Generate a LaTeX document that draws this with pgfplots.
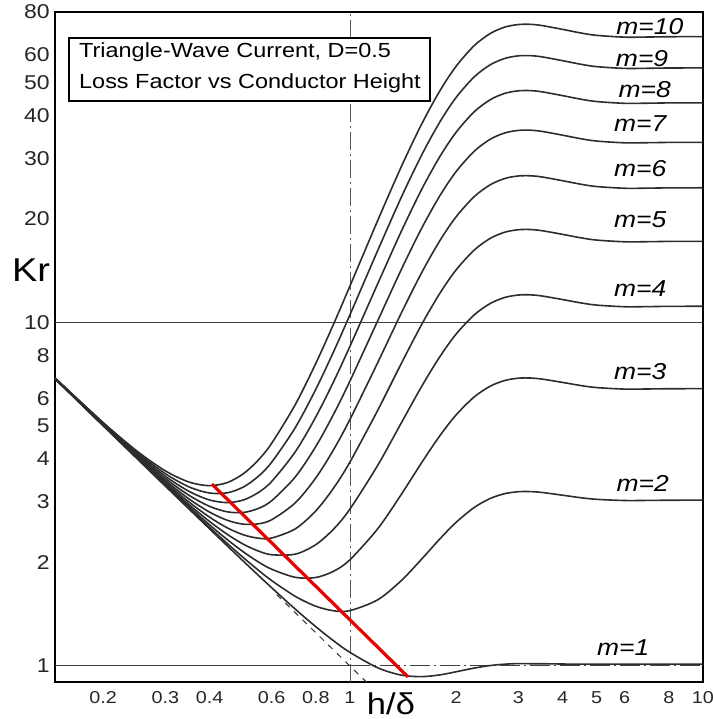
\documentclass[border=0pt]{standalone}
\usepackage{pgfplots}
\pgfplotsset{compat=1.18}
\usepackage{pgfplotstable}
\usepackage{fontspec}
\setmainfont{Liberation Sans}[FakeStretch=1.15]
\usetikzlibrary{calc}

\pgfplotstableread{
x     m1    m2    m3    m4     m5     m6     m7     m8     m9     m10
0.146 6.850 6.851 6.853 6.856  6.860  6.864  6.870  6.876  6.883  6.891
0.2   5.001 5.004 5.010 5.017  5.027  5.039  5.053  5.069  5.087  5.107
0.25  4.002 4.008 4.018 4.033  4.052  4.075  4.102  4.134  4.170  4.209
0.3   3.336 3.347 3.365 3.391  3.423  3.463  3.510  3.564  3.626  3.695
0.35  2.862 2.879 2.908 2.948  2.999  3.062  3.137  3.222  3.320  3.429
0.4   2.507 2.532 2.575 2.634  2.711  2.804  2.914  3.041  3.186  3.347
0.45  2.232 2.268 2.328 2.412  2.520  2.652  2.808  2.988  3.192  3.420
0.5   2.013 2.062 2.144 2.258  2.406  2.585  2.798  3.043  3.321  3.632
0.55  1.836 1.900 2.008 2.160  2.354  2.592  2.873  3.197  3.564  3.975
0.6   1.689 1.772 1.912 2.107  2.357  2.664  3.026  3.443  3.917  4.446
0.7   1.463 1.594 1.811 2.115  2.506  2.984  3.549  4.200  4.939  5.764
0.8   1.301 1.492 1.809 2.254  2.826  3.525  4.351  5.304  6.384  7.592
0.9   1.182 1.447 1.888 2.506  3.301  4.272  5.419  6.744  8.244  9.922
1.0   1.095 1.449 2.038 2.863  3.924  5.221  6.753  8.521  10.525 12.764
1.2   0.987 1.559 2.512 3.846  5.562  7.659  10.136 12.995 16.235 19.857
1.4   0.940 1.775 3.166 5.114  7.618  10.679 14.296 18.469 23.200 28.486
1.6   0.931 2.052 3.921 6.538  9.902  14.015 18.874 24.481 30.836 37.938
1.8   0.942 2.347 4.688 7.965  12.179 17.330 23.416 30.439 38.399 47.295
2.0   0.962 2.620 5.383 9.252  14.226 20.305 27.489 35.779 45.174 55.674
2.25  0.986 2.893 6.070 10.518 16.237 23.227 31.488 41.020 51.823 63.896
2.5   1.003 3.074 6.525 11.356 17.568 25.161 34.133 44.486 56.220 69.334
2.75  1.012 3.174 6.776 11.819 18.303 26.228 35.595 46.402 58.650 72.339
3.0   1.016 3.214 6.878 12.007 18.602 26.663 36.188 47.180 59.637 73.560
3.25  1.015 3.217 6.885 12.022 18.625 26.697 36.236 47.242 59.716 73.658
3.5   1.015 3.198 6.836 11.929 18.478 26.482 35.941 46.855 59.225 73.050
4.0   1.013 3.140 6.686 11.650 18.032 25.833 35.051 45.688 57.743 71.217
4.5   1.012 3.088 6.549 11.394 17.623 25.236 34.233 44.615 56.381 69.531
5.0   1.012 3.054 6.458 11.223 17.350 24.838 33.688 43.899 55.472 68.406
6.0   1.012 3.030 6.393 11.101 17.155 24.554 33.298 43.387 54.822 67.601
7.0   1.012 3.032 6.398 11.110 17.168 24.573 33.325 43.422 54.866 67.656
8.0   1.012 3.036 6.408 11.130 17.200 24.620 33.388 43.505 54.972 67.787
10.0  1.012 3.037 6.411 11.135 17.209 24.632 33.405 43.528 55.001 67.823
}\kr

\definecolor{curve}{RGB}{45,45,45}
\definecolor{redline}{RGB}{230,0,0}

\begin{document}
\begin{tikzpicture}
\begin{axis}[
  scale only axis, width=324pt, height=335pt,
  xmode=log, ymode=log,
  xmin=0.146, xmax=10, ymin=0.898, ymax=80,
  axis line style={line width=0.9pt, black},
  xtick={0.2,0.3,0.4,0.6,0.8,1,2,3,4,5,6,8,10},
  xticklabels={0.2,0.3,0.4,0.6,0.8,1,2,3,4,5,6,8,10},
  ytick={1,2,3,4,5,6,8,10,20,30,40,50,60,80},
  yticklabels={1,2,3,4,5,6,8,10,20,30,40,50,60,80},
  major tick length=0pt, minor tick length=0pt,
  xminorticks=false, yminorticks=false,
  /pgf/number format/assume math mode=true,
  xticklabel style={font=\fontsize{8.6}{10}\selectfont, text=black!85, anchor=north, inner sep=0pt, yshift=-4.5pt},
  yticklabel style={font=\fontsize{10}{11}\selectfont, text=black!85, anchor=east, inner sep=0pt, xshift=-2.5pt},
  clip=false,
  kr/.style={curve, line width=0.8pt, smooth, no markers, solid},
  ref/.style={no markers, sharp plot, line width=0.5pt},
]
% reference lines
\addplot[ref, black!75] coordinates {(0.146,10) (10,10)};
\addplot[ref, black!75] coordinates {(0.146,1) (1,1)};
\addplot[ref, black!75, dash pattern=on 10pt off 2pt on 1pt off 2pt] coordinates {(1,1) (10,1)};
\addplot[ref, black!65, line width=0.45pt, dash pattern=on 9pt off 2pt on 1pt off 2pt] coordinates {(1,0.898) (1,80)};
\addplot[ref, black!80, dashed] coordinates {(0.62,1.613) (1.113,0.898)};
% curves
\addplot[kr] table[x=x,y=m1] {\kr};
\addplot[kr] table[x=x,y=m2] {\kr};
\addplot[kr] table[x=x,y=m3] {\kr};
\addplot[kr] table[x=x,y=m4] {\kr};
\addplot[kr] table[x=x,y=m5] {\kr};
\addplot[kr] table[x=x,y=m6] {\kr};
\addplot[kr] table[x=x,y=m7] {\kr};
\addplot[kr] table[x=x,y=m8] {\kr};
\addplot[kr] table[x=x,y=m9] {\kr};
\addplot[kr] table[x=x,y=m10] {\kr};
% red line through the minima
\addplot[ref, redline, line width=1.6pt] coordinates {(0.4064,3.381) (1.46,0.929)};
% curve labels
\begin{scope}[every node/.style={font=\fontsize{11.5}{12}\selectfont\itshape, text=black}]
\node at (rel axis cs:0.918,0.978) {m=10};
\node at (rel axis cs:0.906,0.931) {m=9};
\node at (rel axis cs:0.910,0.884) {m=8};
\node at (rel axis cs:0.903,0.834) {m=7};
\node at (rel axis cs:0.903,0.766) {m=6};
\node at (rel axis cs:0.903,0.690) {m=5};
\node at (rel axis cs:0.903,0.587) {m=4};
\node at (rel axis cs:0.903,0.464) {m=3};
\node at (rel axis cs:0.907,0.296) {m=2};
\node at (rel axis cs:0.877,0.052) {m=1};
\end{scope}
% title box
\draw[black, fill=white, line width=0.9pt] (rel axis cs:0.0216,0.9612) rectangle (rel axis cs:0.5787,0.8672);
\node[anchor=base west, inner sep=0pt, font=\fontsize{10.2}{11}\selectfont] at (rel axis cs:0.0367,0.9318) {Triangle-Wave Current, D=0.5};
\node[anchor=base west, inner sep=0pt, font=\fontsize{10.2}{11}\selectfont] at (rel axis cs:0.0367,0.8861) {Loss Factor vs Conductor Height};
% axis labels
\node[font=\fontsize{16.5}{18}\selectfont, anchor=center] at ([xshift=-12pt]rel axis cs:0,0.615) {Kr};
\node[font=\fontsize{15}{17}\selectfont, anchor=base] at ([yshift=-16.3pt]rel axis cs:0.5185,0) {h/δ};
\end{axis}
\pgfresetboundingbox
\path ($(current axis.south west)+(-27.5pt,-18.5pt)$) rectangle ($(current axis.north east)+(5pt,6pt)$);
\end{tikzpicture}
\end{document}
